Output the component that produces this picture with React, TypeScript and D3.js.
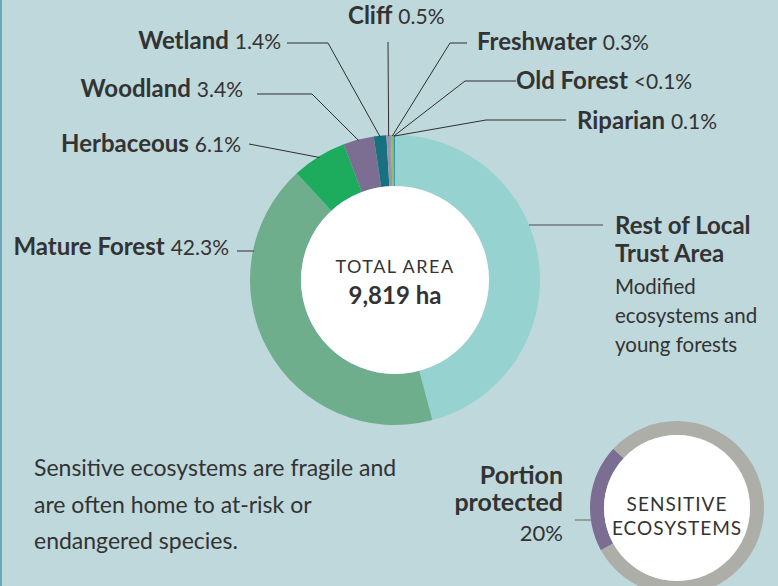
import React from "react";
import * as d3 from "d3";

const categories = ["Rest of Local Trust Area", "Mature Forest", "Herbaceous", "Woodland", "Wetland", "Cliff", "Freshwater", "Old Forest", "Riparian"];
const shares = [45.85, 42.3, 6.1, 3.4, 1.4, 0.5, 0.3, 0.05, 0.1];
const shareLabels = ["", "42.3%", "6.1%", "3.4%", "1.4%", "0.5%", "0.3%", "<0.1%", "0.1%"];
const colors = ["#95d2d0", "#6fae8c", "#1dab5e", "#7b6e92", "#18717f", "#9c93b3", "#8fc24a", "#3a8f5a", "#1c82c4"];

const protectedLabel = "20%";
const protectedShare = [20, 80];

// label layout: text anchor point, line start, elbow; "flat" = leader ends on the ring at the elbow's height
const layout: Record<string, { tx: number; ty: number; anchor: "start" | "end"; lx: number; ly: number; ex: number; ey: number; flat?: boolean }> = {
  "Mature Forest": { tx: 229, ty: 255, anchor: "end", lx: 237, ly: 251, ex: 237, ey: 251, flat: true },
  Herbaceous: { tx: 241, ty: 152, anchor: "end", lx: 249, ly: 144, ex: 249, ey: 144 },
  Woodland: { tx: 243, ty: 97, anchor: "end", lx: 257, ly: 94, ex: 312, ey: 94 },
  Wetland: { tx: 281, ty: 49, anchor: "end", lx: 287, ly: 43, ex: 328, ey: 43 },
  Cliff: { tx: 348, ty: 24, anchor: "start", lx: 388, ly: 42, ex: 388, ey: 42 },
  Freshwater: { tx: 477, ty: 50, anchor: "start", lx: 467, ly: 43, ex: 450, ey: 43 },
  "Old Forest": { tx: 516, ty: 89, anchor: "start", lx: 516, ly: 81, ex: 465, ey: 81 },
  Riparian: { tx: 577, ty: 129, anchor: "start", lx: 566, ly: 120, ex: 486, ey: 120 },
};

const FONT = "Lato, 'Open Sans', sans-serif";
const TEXT = "#333333";

export default function App() {
  const W = 778, H = 586;
  const cx = 395, cy = 280, rOut = 145, rIn = 94;
  const pie = d3.pie<number>().sort(null).value((d) => d).startAngle(0).endAngle(2 * Math.PI);
  const arcs = pie(shares);
  const arcGen = d3.arc<d3.PieArcDatum<number>>().innerRadius(rIn).outerRadius(rOut);

  const scx = 677, scy = 508, sOut = 87, sIn = 73;
  const a0 = (241 / 180) * Math.PI;
  const spie = d3.pie<number>().sort(null).value((d) => d).startAngle(a0).endAngle(a0 + 2 * Math.PI);
  const sarcs = spie(protectedShare);
  const sArc = d3.arc<d3.PieArcDatum<number>>().innerRadius(sIn).outerRadius(sOut);

  const edgePoint = (a: d3.PieArcDatum<number>, r: number) => {
    const m = (a.startAngle + a.endAngle) / 2;
    return [cx + r * Math.sin(m), cy - r * Math.cos(m)];
  };

  return (
    <svg width={W} height={H} style={{ position: "absolute", left: 0, top: 0, fontFamily: FONT }}>
      <rect x={0} y={0} width={W} height={H} fill="#bed8db" />
      <rect x={0} y={0} width={2} height={H} fill="#6aa9b7" />

      <g transform={`translate(${cx},${cy})`}>
        {arcs.map((a, i) => (
          <path key={i} d={arcGen(a) || ""} fill={colors[i]} />
        ))}
        <circle r={rIn} fill="#ffffff" />
      </g>

      {arcs.map((a, i) => {
        const name = categories[i];
        const L = layout[name];
        if (!L) return null;
        let px: number, py: number;
        if (L.flat) {
          const dy = L.ey - cy;
          px = cx - Math.sqrt(rOut * rOut - dy * dy) + 1;
          py = L.ey;
        } else {
          [px, py] = edgePoint(a, rOut - 1);
        }
        return (
          <g key={name}>
            <polyline points={`${L.lx},${L.ly} ${L.ex},${L.ey} ${px},${py}`} fill="none" stroke="#2f2f2f" strokeWidth={1} />
            <text x={L.tx} y={L.ty} textAnchor={L.anchor} fill={TEXT}>
              <tspan fontWeight={700} fontSize={24}>{name}</tspan>
              <tspan dx={6} fontWeight={400} fontSize={21}>{shareLabels[i]}</tspan>
            </text>
          </g>
        );
      })}

      {/* Rest of Local Trust Area */}
      <line x1={529} y1={225} x2={603} y2={225} stroke="#4a4a4a" strokeWidth={1} />
      <text x={615} fill={TEXT}>
        <tspan x={615} y={234} fontWeight={700} fontSize={24}>Rest of Local</tspan>
        <tspan x={615} y={262} fontWeight={700} fontSize={24}>Trust Area</tspan>
        <tspan x={615} y={294} fontSize={20.5}>Modified</tspan>
        <tspan x={615} y={323} fontSize={20.5}>ecosystems and</tspan>
        <tspan x={615} y={352} fontSize={20.5}>young forests</tspan>
      </text>

      <text x={cx} y={273} textAnchor="middle" fill={TEXT} fontSize={18} letterSpacing={1.5}>TOTAL AREA</text>
      <text x={cx} y={304} textAnchor="middle" fill={TEXT} fontSize={24} fontWeight={700}>9,819 ha</text>

      <text fill={TEXT} fontSize={23}>
        <tspan x={34} y={476}>Sensitive ecosystems are fragile and</tspan>
        <tspan x={34} y={513}>are often home to at-risk or</tspan>
        <tspan x={34} y={549}>endangered species.</tspan>
      </text>

      <g transform={`translate(${scx},${scy})`}>
        {sarcs.map((a, i) => (
          <path key={i} d={sArc(a) || ""} fill={i === 0 ? "#7b6e92" : "#adaea8"} />
        ))}
        <circle r={sIn} fill="#ffffff" />
        <text y={3} textAnchor="middle" fill={TEXT} fontSize={19} letterSpacing={1}>SENSITIVE</text>
        <text y={27} textAnchor="middle" fill={TEXT} fontSize={19} letterSpacing={1}>ECOSYSTEMS</text>
      </g>
      <line x1={575} y1={520} x2={591} y2={520} stroke="#666" strokeWidth={1} />
      <text textAnchor="end" fill={TEXT}>
        <tspan x={563} y={484} fontWeight={700} fontSize={25}>Portion</tspan>
        <tspan x={563} y={511} fontWeight={700} fontSize={25}>protected</tspan>
        <tspan x={563} y={541} fontSize={22}>{protectedLabel}</tspan>
      </text>
    </svg>
  );
}
